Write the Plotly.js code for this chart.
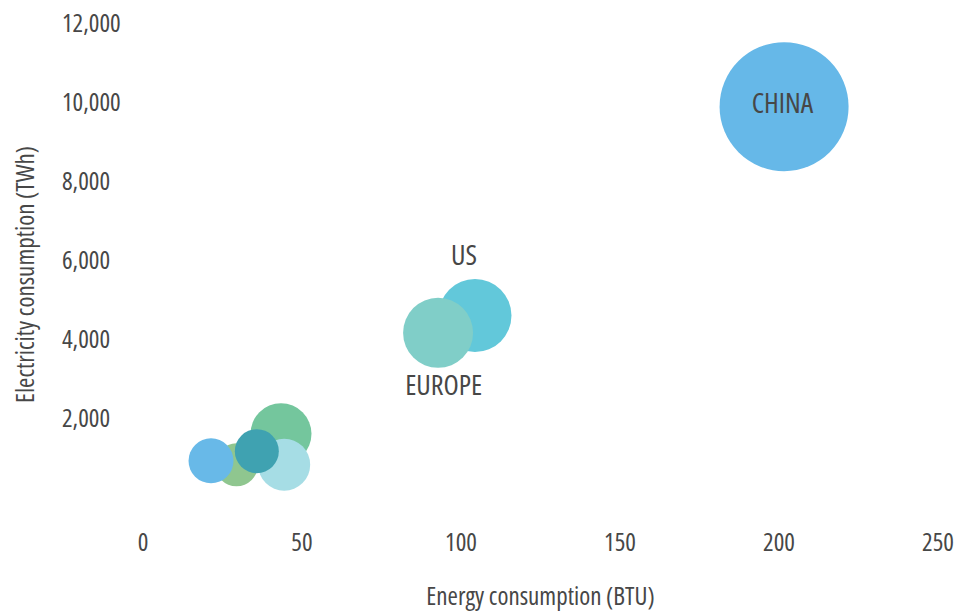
<!DOCTYPE html>
<html>
<head>
<meta charset="utf-8">
<script src="https://cdn.plot.ly/plotly-3.0.1.min.js"></script>
<style>
html,body{margin:0;padding:0;background:#fff;}
#chart{width:968px;height:612px;}
#chart svg text{font-stretch:75% !important;}
</style>
</head>
<body>
<div id="chart"></div>
<script>
var countries = ["", "", "", "", "", "US", "EUROPE", "CHINA"];
var energyBTU = [43.4, 44.4, 29.4, 35.8, 21.4, 104.4, 92.8, 201.6];
var electricityTWh = [1613, 832, 829, 1173, 930, 4602, 4167, 9884];
var bubbleSize = [61, 52, 43, 44, 45, 73, 70, 129];
var colors = ["#74c69d", "#a6dde5", "#8fc68f", "#3fa2b1", "#68b9e8", "#62c8da", "#80cec8", "#66b8e8"];
var xTicks = [0, 50, 100, 150, 200, 250];
var yTicks = [2000, 4000, 6000, 8000, 10000, 12000];
var xTitle = "Energy consumption (BTU)";
var yTitle = "Electricity consumption (TWh)";

var FONT = "'Open Sans', sans-serif";
var TXT = "#474747";

// label offsets (px) relative to each bubble centre
var labelShift = {"CHINA": [-2, 5], "US": [-11, 62], "EUROPE": [5, -51]};

var trace = {
  type: "scatter",
  mode: "markers",
  x: energyBTU,
  y: electricityTWh,
  xaxis: "x",
  yaxis: "y",
  marker: {
    size: bubbleSize,
    sizemode: "diameter",
    sizeref: 1,
    color: colors,
    opacity: 1,
    line: {width: 0}
  },
  hoverinfo: "x+y",
  showlegend: false
};

var annotations = [];
countries.forEach(function(name, i){
  if (!name) return;
  var s = labelShift[name] || [0, 0];
  annotations.push({
    x: energyBTU[i], y: electricityTWh[i], xref: "x", yref: "y",
    text: name, showarrow: false,
    xshift: s[0], yshift: s[1],
    font: {family: FONT, size: 28, color: TXT}
  });
});
annotations.push({
  x: -0.0293, y: 0.5, xref: "paper", yref: "paper",
  text: yTitle, textangle: -90, showarrow: false,
  xanchor: "center", yanchor: "middle",
  font: {family: FONT, size: 25, color: TXT}
});

var layout = {
  width: 968,
  height: 612,
  margin: {l: 50, r: 30, t: 23, b: 87},
  paper_bgcolor: "#ffffff",
  plot_bgcolor: "#ffffff",
  font: {family: FONT, color: TXT, size: 22},
  xaxis: {
    domain: [0.1047, 1],
    range: [0, 250],
    anchor: "y",
    tickvals: xTicks,
    ticktext: xTicks.map(String),
    showgrid: false,
    zeroline: false,
    showline: false,
    ticks: "",
    tickfont: {family: FONT, size: 25, color: TXT},
    title: {text: xTitle, font: {family: FONT, size: 25, color: TXT}, standoff: 42}
  },
  yaxis: {
    range: [-693, 12000],
    anchor: "free",
    position: 0.009,
    side: "left",
    ticklabelposition: "inside",
    ticklabeloverflow: "allow",
    tickvals: yTicks,
    ticktext: yTicks.map(function(v){return v.toLocaleString("en-US");}),
    showgrid: false,
    zeroline: false,
    showline: false,
    ticks: "",
    tickfont: {family: FONT, size: 25, color: TXT}
  },
  annotations: annotations
};

Plotly.newPlot("chart", [trace], layout, {displayModeBar: false, staticPlot: true});
</script>
</body>
</html>
